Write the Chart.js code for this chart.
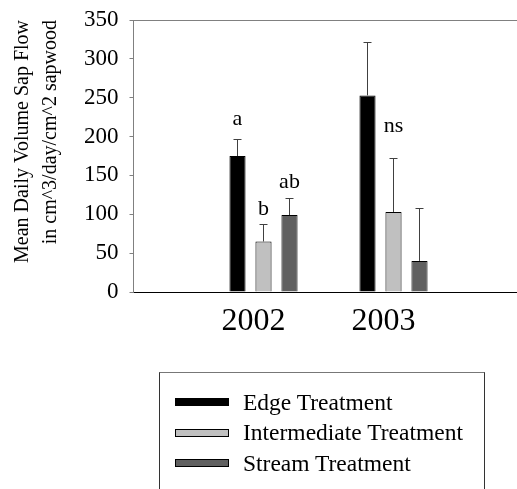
<!DOCTYPE html>
<html>
<head>
<meta charset="utf-8">
<script src="https://cdn.jsdelivr.net/npm/chart.js@4.4.1/dist/chart.umd.min.js"></script>
<style>
  body { margin: 0; background: #fff; }
  #wrap { position: relative; width: 517px; height: 489px; }
  #legendBox {
    position: absolute; left: 159px; top: 372px; width: 326px; height: 130px;
    border: 1px solid #333; border-top-color: #777; box-sizing: border-box; padding: 14px 0 0 15px;
    font-family: "Liberation Serif", "Times New Roman", serif; font-size: 23.5px; color: #000;
  }
  .item { display: flex; align-items: center; height: 30.5px; white-space: nowrap; }
  .swatch { width: 54px; height: 8px; box-sizing: border-box; border: 1px solid #000; margin-right: 14px; }
</style>
</head>
<body>
<div id="wrap">
  <canvas id="sapChart"></canvas>
  <div id="legendBox"></div>
</div>
<script>
  // Data
  const years = [2002, 2003];
  const yTicks = [0, 50, 100, 150, 200, 250, 300, 350];
  const seriesNames = ['Edge Treatment', 'Intermediate Treatment', 'Stream Treatment'];
  const edgeFlow = [175, 253];
  const intermediateFlow = [65, 103];
  const streamFlow = [99, 40];
  const edgeErr = [22, 69];
  const intermediateErr = [22, 69];
  const streamErr = [22, 68];
  const edgeLetters = ['a', ''];
  const intermediateLetters = ['b', 'ns'];
  const streamLetters = ['ab', ''];

  const serif = '"Liberation Serif", "Times New Roman", serif';

  // how far above the error cap each letter sits (px)
  const letterLift = [[20, 0], [15, 32], [16, 0]];

  const errorBars = {
    id: 'errorBars',
    afterDatasetsDraw(chart) {
      const ctx = chart.ctx;
      const y = chart.scales.y;
      ctx.save();
      ctx.font = '22px ' + serif;
      ctx.textAlign = 'center';
      ctx.textBaseline = 'middle';
      ctx.fillStyle = '#000';
      chart.data.datasets.forEach((ds, i) => {
        chart.getDatasetMeta(i).data.forEach((bar, j) => {
          const x = Math.round(bar.x) + 0.5;
          const top = Math.round(y.getPixelForValue(ds.data[j] + ds.errors[j])) + 0.5;
          ctx.strokeStyle = '#404040';
          ctx.lineWidth = 1;
          ctx.beginPath();
          ctx.moveTo(x, bar.y);
          ctx.lineTo(x, top);
          ctx.moveTo(x - 4, top);
          ctx.lineTo(x + 4, top);
          ctx.stroke();
          if (ds.letters[j]) ctx.fillText(ds.letters[j], bar.x, top - letterLift[i][j]);
        });
      });
      ctx.restore();
    }
  };

  const topFrame = {
    id: 'topFrame',
    afterDraw(chart) {
      const {ctx, chartArea} = chart;
      ctx.save();
      ctx.strokeStyle = '#808080';
      ctx.lineWidth = 1;
      ctx.beginPath();
      ctx.moveTo(chartArea.left, Math.round(chartArea.top) + 0.5);
      ctx.lineTo(chartArea.right, Math.round(chartArea.top) + 0.5);
      ctx.stroke();
      ctx.restore();
    }
  };

  const sapData = {
    labels: years,
    datasets: [
      { label: seriesNames[0], data: edgeFlow, errors: edgeErr, letters: edgeLetters,
        backgroundColor: '#000000', borderColor: '#000', borderWidth: 1 },
      { label: seriesNames[1], data: intermediateFlow, errors: intermediateErr, letters: intermediateLetters,
        backgroundColor: '#c0c0c0', borderColor: '#000', borderWidth: 1 },
      { label: seriesNames[2], data: streamFlow, errors: streamErr, letters: streamLetters,
        backgroundColor: '#606060', borderColor: '#000', borderWidth: 1 }
    ]
  };

  const sapConfig = {
    type: 'bar',
    data: sapData,
    options: {
      responsive: true,
      maintainAspectRatio: false,
      animation: false,
      categoryPercentage: 0.6,
      barPercentage: 0.62,
      layout: { padding: { top: 20, right: 0, bottom: 127, left: 0 } },
      plugins: { legend: { display: false }, tooltip: { enabled: false } },
      scales: {
        x: {
          type: 'linear',
          offset: false,
          min: 2001,
          max: 2003.95,
          afterBuildTicks: s => { s.ticks = years.map(v => ({ value: v })); },
          afterFit: s => { s.height = 70; },
          grid: { display: false, drawTicks: false, offset: false },
          border: { color: '#000', width: 1 },
          ticks: {
            callback: v => String(v),
            color: '#000',
            font: { family: serif, size: 32 },
            padding: 10,
            labelOffset: -10,
            maxRotation: 0
          }
        },
        y: {
          min: yTicks[0],
          max: yTicks[yTicks.length - 1],
          afterBuildTicks: s => { s.ticks = yTicks.map(v => ({ value: v })); },
          // fixed axis width; don't let the tick padding push the plot top down
          afterFit: s => { s.width = 133.5; s.paddingTop = 0; s.paddingBottom = 0; },
          grid: { drawOnChartArea: false, drawTicks: true, tickLength: 4, color: '#808080' },
          border: { color: '#808080', width: 1 },
          ticks: { color: '#000', font: { family: serif, size: 23 }, padding: 11 },
          title: {
            display: true,
            text: ['Mean Daily Volume Sap Flow', 'in cm^3/day/cm^2 sapwood'],
            align: 'end',
            color: '#000',
            font: { family: serif, size: 20, lineHeight: 1.4 },
            padding: { top: 9 }
          }
        }
      }
    },
    plugins: [errorBars, topFrame]
  };

  const sapChart = new Chart(document.getElementById('sapChart').getContext('2d'), sapConfig);

  // HTML legend in its own box below the plot
  const legendBox = document.getElementById('legendBox');
  sapChart.data.datasets.forEach(ds => {
    const item = document.createElement('div');
    item.className = 'item';
    const sw = document.createElement('span');
    sw.className = 'swatch';
    sw.style.background = ds.backgroundColor;
    item.appendChild(sw);
    item.appendChild(document.createTextNode(ds.label));
    legendBox.appendChild(item);
  });
</script>
</body>
</html>
